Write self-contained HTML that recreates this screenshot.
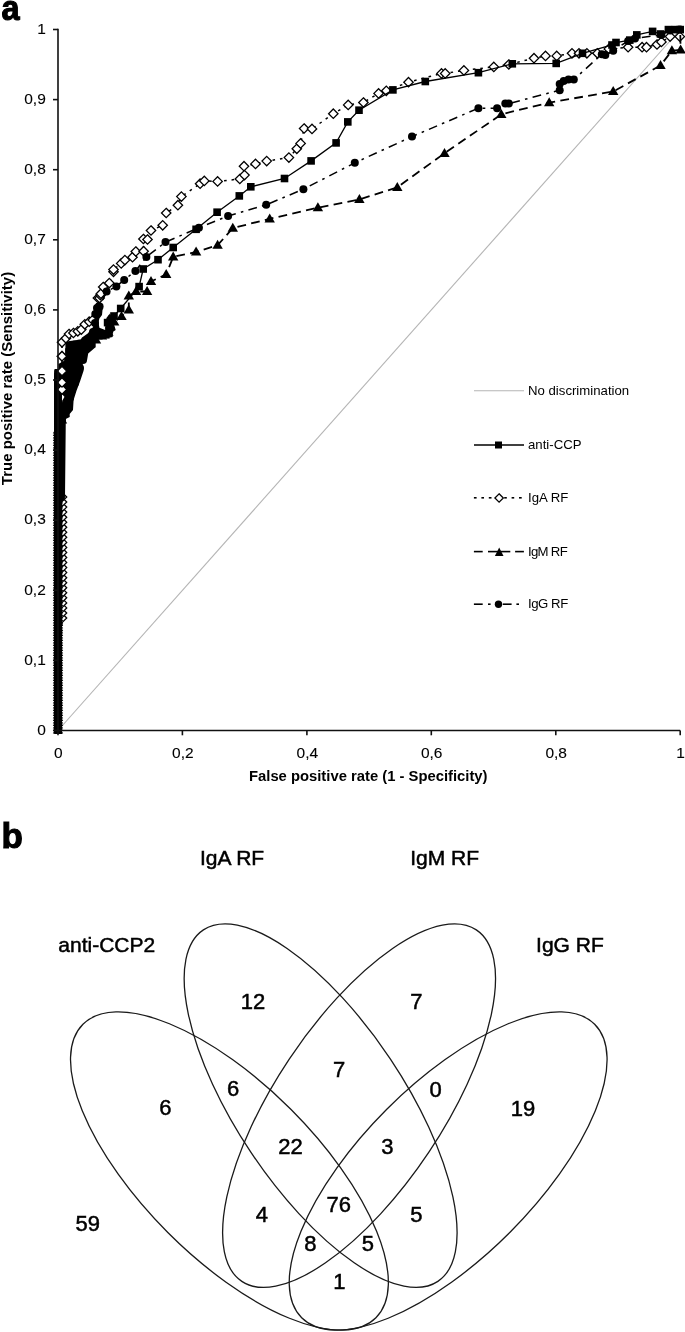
<!DOCTYPE html>
<html><head><meta charset="utf-8"><style>
html,body{margin:0;padding:0;background:#fff;}
body{width:685px;height:1332px;overflow:hidden;font-family:"Liberation Sans",sans-serif;}
svg{display:block;filter:grayscale(1) blur(0.3px);}
</style></head><body>
<svg width="685" height="1332" viewBox="0 0 685 1332">
<rect width="685" height="1332" fill="#fff"/>
<line x1="58.0" y1="730.5" x2="680.2" y2="29.5" stroke="#b4b4b4" stroke-width="1.1"/>
<polygon points="54.5,734.0 54.5,369.0 58.4,369.0 58.4,364.0 65.4,360.0 65.4,342.0 70.0,341.0 80.7,339.4 82.0,337.5 87.7,333.5 93.5,326.5 94.0,318.0 95.0,305.0 99.0,301.0 103.0,305.0 102.0,315.0 99.4,318.4 98.5,322.0 99.4,327.7 105.2,330.0 106.4,318.0 109.3,314.3 112.0,318.0 115.7,330.0 112.7,332.0 112.7,337.0 110.4,337.5 96.4,338.5 95.2,341.7 95.2,347.5 88.2,353.4 87.0,360.4 82.4,361.0 83.5,371.0 80.0,381.4 76.5,390.7 73.6,400.0 73.0,410.0 69.7,414.0 69.7,417.0 65.8,419.0 65.0,497.0 62.0,500.0 62.0,734.0" fill="#000"/>
<polyline points="58.0,730.5 62.0,618.0 62.0,613.0 62.0,607.9 62.0,602.9 62.0,597.8 62.0,592.8 62.0,587.8 62.0,582.7 62.0,577.7 62.0,572.6 62.0,567.6 62.0,562.5 62.0,557.5 62.0,552.5 62.0,547.4 62.0,542.4 62.0,537.3 62.0,532.3 62.0,527.2 62.0,522.2 62.0,517.2 62.0,512.1 62.0,507.1 62.0,502.0 62.0,497.0 62.0,398.0 62.0,389.5 62.0,382.5 62.0,371.1 62.0,356.2 62.0,342.3 65.9,338.3 69.0,334.0 73.4,333.0 77.8,331.3 81.3,329.6 84.8,324.3 89.2,321.7 92.7,320.0 97.9,298.0 99.6,298.1 100.4,295.2 100.9,293.7 103.2,287.0 109.3,283.1 113.5,271.8 113.5,269.6 121.2,263.4 124.9,260.1 132.5,257.2 135.8,251.5 143.6,251.2 143.4,239.0 147.5,239.5 151.0,230.5 162.7,225.3 166.2,213.0 177.9,205.2 181.4,196.6 200.1,183.7 204.3,180.9 217.6,181.4 239.8,179.0 244.5,175.1 244.0,166.2 255.5,163.9 266.7,161.1 288.9,157.6 296.8,148.8 300.6,143.4 304.1,128.5 312.0,128.9 333.3,113.7 348.2,104.9 363.4,102.5 378.6,93.4 386.3,90.8 408.5,82.2 441.5,73.4 445.2,73.4 463.9,70.4 493.8,66.9 508.8,64.5 534.0,58.2 545.5,55.9 556.7,55.9 572.0,53.3 579.0,53.3 586.9,53.3 597.4,53.3 608.8,48.9 628.1,47.2 642.1,47.2 646.5,47.2 657.0,44.5 661.4,41.9 670.1,36.6 679.8,36.6 680.2,29.5" fill="none" stroke="#000" stroke-width="1.5" stroke-dasharray="2.6 4.9"/>
<g fill="#fff" stroke="#000" stroke-width="1.3"><path d="M62.0 613.3L66.7 618.0L62.0 622.7L57.3 618.0Z"/><path d="M62.0 608.3L66.7 613.0L62.0 617.7L57.3 613.0Z"/><path d="M62.0 603.2L66.7 607.9L62.0 612.6L57.3 607.9Z"/><path d="M62.0 598.2L66.7 602.9L62.0 607.6L57.3 602.9Z"/><path d="M62.0 593.1L66.7 597.8L62.0 602.5L57.3 597.8Z"/><path d="M62.0 588.1L66.7 592.8L62.0 597.5L57.3 592.8Z"/><path d="M62.0 583.0L66.7 587.8L62.0 592.5L57.3 587.8Z"/><path d="M62.0 578.0L66.7 582.7L62.0 587.4L57.3 582.7Z"/><path d="M62.0 573.0L66.7 577.7L62.0 582.4L57.3 577.7Z"/><path d="M62.0 567.9L66.7 572.6L62.0 577.3L57.3 572.6Z"/><path d="M62.0 562.9L66.7 567.6L62.0 572.3L57.3 567.6Z"/><path d="M62.0 557.8L66.7 562.5L62.0 567.2L57.3 562.5Z"/><path d="M62.0 552.8L66.7 557.5L62.0 562.2L57.3 557.5Z"/><path d="M62.0 547.8L66.7 552.5L62.0 557.2L57.3 552.5Z"/><path d="M62.0 542.7L66.7 547.4L62.0 552.1L57.3 547.4Z"/><path d="M62.0 537.7L66.7 542.4L62.0 547.1L57.3 542.4Z"/><path d="M62.0 532.6L66.7 537.3L62.0 542.0L57.3 537.3Z"/><path d="M62.0 527.6L66.7 532.3L62.0 537.0L57.3 532.3Z"/><path d="M62.0 522.5L66.7 527.2L62.0 532.0L57.3 527.2Z"/><path d="M62.0 517.5L66.7 522.2L62.0 526.9L57.3 522.2Z"/><path d="M62.0 512.5L66.7 517.2L62.0 521.9L57.3 517.2Z"/><path d="M62.0 507.4L66.7 512.1L62.0 516.8L57.3 512.1Z"/><path d="M62.0 502.4L66.7 507.1L62.0 511.8L57.3 507.1Z"/><path d="M62.0 497.3L66.7 502.0L62.0 506.7L57.3 502.0Z"/><path d="M62.0 492.3L66.7 497.0L62.0 501.7L57.3 497.0Z"/><path d="M62.0 393.3L66.7 398.0L62.0 402.7L57.3 398.0Z"/><path d="M62.0 384.8L66.7 389.5L62.0 394.2L57.3 389.5Z"/><path d="M62.0 377.8L66.7 382.5L62.0 387.2L57.3 382.5Z"/><path d="M62.0 366.4L66.7 371.1L62.0 375.8L57.3 371.1Z"/><path d="M62.0 351.5L66.7 356.2L62.0 360.9L57.3 356.2Z"/><path d="M62.0 337.6L66.7 342.3L62.0 347.0L57.3 342.3Z"/><path d="M65.9 333.6L70.6 338.3L65.9 343.0L61.2 338.3Z"/><path d="M69.0 329.3L73.7 334.0L69.0 338.7L64.3 334.0Z"/><path d="M73.4 328.3L78.1 333.0L73.4 337.7L68.7 333.0Z"/><path d="M77.8 326.6L82.5 331.3L77.8 336.0L73.1 331.3Z"/><path d="M81.3 324.9L86.0 329.6L81.3 334.3L76.6 329.6Z"/><path d="M84.8 319.6L89.5 324.3L84.8 329.0L80.1 324.3Z"/><path d="M89.2 317.0L93.9 321.7L89.2 326.4L84.5 321.7Z"/><path d="M92.7 315.3L97.4 320.0L92.7 324.7L88.0 320.0Z"/><path d="M97.9 293.3L102.6 298.0L97.9 302.7L93.2 298.0Z"/><path d="M99.6 293.4L104.3 298.1L99.6 302.8L94.9 298.1Z"/><path d="M100.4 290.5L105.1 295.2L100.4 299.9L95.7 295.2Z"/><path d="M100.9 289.0L105.6 293.7L100.9 298.4L96.2 293.7Z"/><path d="M103.2 282.3L107.9 287.0L103.2 291.7L98.5 287.0Z"/><path d="M109.3 278.4L114.0 283.1L109.3 287.8L104.6 283.1Z"/><path d="M113.5 267.1L118.2 271.8L113.5 276.5L108.8 271.8Z"/><path d="M113.5 264.9L118.2 269.6L113.5 274.3L108.8 269.6Z"/><path d="M121.2 258.7L125.9 263.4L121.2 268.1L116.5 263.4Z"/><path d="M124.9 255.4L129.6 260.1L124.9 264.8L120.2 260.1Z"/><path d="M132.5 252.5L137.2 257.2L132.5 261.9L127.8 257.2Z"/><path d="M135.8 246.8L140.5 251.5L135.8 256.2L131.1 251.5Z"/><path d="M143.6 246.5L148.3 251.2L143.6 255.9L138.9 251.2Z"/><path d="M143.4 234.3L148.1 239.0L143.4 243.7L138.7 239.0Z"/><path d="M147.5 234.8L152.2 239.5L147.5 244.2L142.8 239.5Z"/><path d="M151.0 225.8L155.7 230.5L151.0 235.2L146.3 230.5Z"/><path d="M162.7 220.6L167.4 225.3L162.7 230.0L158.0 225.3Z"/><path d="M166.2 208.3L170.9 213.0L166.2 217.7L161.5 213.0Z"/><path d="M177.9 200.5L182.6 205.2L177.9 209.9L173.2 205.2Z"/><path d="M181.4 191.9L186.1 196.6L181.4 201.3L176.7 196.6Z"/><path d="M200.1 179.0L204.8 183.7L200.1 188.4L195.4 183.7Z"/><path d="M204.3 176.2L209.0 180.9L204.3 185.6L199.6 180.9Z"/><path d="M217.6 176.7L222.3 181.4L217.6 186.1L212.9 181.4Z"/><path d="M239.8 174.3L244.5 179.0L239.8 183.7L235.1 179.0Z"/><path d="M244.5 170.4L249.2 175.1L244.5 179.8L239.8 175.1Z"/><path d="M244.0 161.5L248.7 166.2L244.0 170.9L239.3 166.2Z"/><path d="M255.5 159.2L260.2 163.9L255.5 168.6L250.8 163.9Z"/><path d="M266.7 156.4L271.4 161.1L266.7 165.8L262.0 161.1Z"/><path d="M288.9 152.9L293.6 157.6L288.9 162.3L284.2 157.6Z"/><path d="M296.8 144.1L301.5 148.8L296.8 153.5L292.1 148.8Z"/><path d="M300.6 138.7L305.3 143.4L300.6 148.1L295.9 143.4Z"/><path d="M304.1 123.8L308.8 128.5L304.1 133.2L299.4 128.5Z"/><path d="M312.0 124.2L316.7 128.9L312.0 133.6L307.3 128.9Z"/><path d="M333.3 109.0L338.0 113.7L333.3 118.4L328.6 113.7Z"/><path d="M348.2 100.2L352.9 104.9L348.2 109.6L343.5 104.9Z"/><path d="M363.4 97.8L368.1 102.5L363.4 107.2L358.7 102.5Z"/><path d="M378.6 88.7L383.3 93.4L378.6 98.1L373.9 93.4Z"/><path d="M386.3 86.1L391.0 90.8L386.3 95.5L381.6 90.8Z"/><path d="M408.5 77.5L413.2 82.2L408.5 86.9L403.8 82.2Z"/><path d="M441.5 68.7L446.2 73.4L441.5 78.1L436.8 73.4Z"/><path d="M445.2 68.7L449.9 73.4L445.2 78.1L440.5 73.4Z"/><path d="M463.9 65.7L468.6 70.4L463.9 75.1L459.2 70.4Z"/><path d="M493.8 62.2L498.5 66.9L493.8 71.6L489.1 66.9Z"/><path d="M508.8 59.8L513.5 64.5L508.8 69.2L504.1 64.5Z"/><path d="M534.0 53.5L538.7 58.2L534.0 62.9L529.3 58.2Z"/><path d="M545.5 51.2L550.2 55.9L545.5 60.6L540.8 55.9Z"/><path d="M556.7 51.2L561.4 55.9L556.7 60.6L552.0 55.9Z"/><path d="M572.0 48.6L576.7 53.3L572.0 58.0L567.3 53.3Z"/><path d="M579.0 48.6L583.7 53.3L579.0 58.0L574.3 53.3Z"/><path d="M586.9 48.6L591.6 53.3L586.9 58.0L582.2 53.3Z"/><path d="M597.4 48.6L602.1 53.3L597.4 58.0L592.7 53.3Z"/><path d="M608.8 44.2L613.5 48.9L608.8 53.6L604.1 48.9Z"/><path d="M628.1 42.5L632.8 47.2L628.1 51.9L623.4 47.2Z"/><path d="M642.1 42.5L646.8 47.2L642.1 51.9L637.4 47.2Z"/><path d="M646.5 42.5L651.2 47.2L646.5 51.9L641.8 47.2Z"/><path d="M657.0 39.8L661.7 44.5L657.0 49.2L652.3 44.5Z"/><path d="M661.4 37.2L666.1 41.9L661.4 46.6L656.7 41.9Z"/><path d="M670.1 31.9L674.8 36.6L670.1 41.3L665.4 36.6Z"/><path d="M679.8 31.9L684.5 36.6L679.8 41.3L675.1 36.6Z"/></g>
<polyline points="58.0,730.0 58.0,727.5 58.0,725.0 58.0,722.5 58.0,720.0 58.0,717.5 58.0,715.0 58.0,712.5 58.0,709.9 58.0,707.4 58.0,704.9 58.0,702.4 58.0,699.9 58.0,697.4 58.0,694.9 58.0,692.4 58.0,689.9 58.0,687.4 58.0,684.9 58.0,682.4 58.0,679.9 58.0,677.4 58.0,674.8 58.0,672.3 58.0,669.8 58.0,667.3 58.0,664.8 58.0,662.3 58.0,659.8 58.0,657.3 58.0,654.8 58.0,652.3 58.0,649.8 58.0,647.3 58.0,644.8 58.0,642.3 58.0,639.7 58.0,637.2 58.0,634.7 58.0,632.2 58.0,629.7 58.0,627.2 58.0,624.7 58.0,622.2 58.0,619.7 58.0,617.2 58.0,614.7 58.0,612.2 58.0,609.7 58.0,607.2 58.0,604.6 58.0,602.1 58.0,599.6 58.0,597.1 58.0,594.6 58.0,592.1 58.0,589.6 58.0,587.1 58.0,584.6 58.0,582.1 58.0,579.6 58.0,577.1 58.0,574.6 58.0,572.1 58.0,569.5 58.0,567.0 58.0,564.5 58.0,562.0 58.0,559.5 58.0,557.0 58.0,554.5 58.0,552.0 58.0,549.5 58.0,547.0 58.0,544.5 58.0,542.0 58.0,539.5 58.0,537.0 58.0,534.5 58.0,531.9 58.0,529.4 58.0,526.9 58.0,524.4 58.0,521.9 58.0,519.4 58.0,516.9 58.0,514.4 58.0,511.9 58.0,509.4 58.0,506.9 58.0,504.4 58.0,501.9 58.0,499.4 58.0,496.8 58.0,494.3 58.0,491.8 58.0,489.3 58.0,486.8 58.0,484.3 58.0,481.8 58.0,479.3 58.0,476.8 58.0,474.3 58.0,471.8 58.0,469.3 58.0,466.8 58.0,464.3 58.0,461.7 58.0,459.2 58.0,456.7 58.0,454.2 58.0,451.7 58.0,449.2 58.0,446.7 58.0,444.2 58.0,441.7 58.0,439.2 58.0,436.7 58.0,434.2 58.0,431.7 58.0,429.2 58.0,426.6 58.0,424.1 58.0,421.6 58.0,419.1 58.0,416.6 58.0,414.1 58.0,411.6 58.0,409.1 58.0,406.6 58.0,404.1 58.0,401.6 58.0,399.1 58.0,396.6 58.0,394.1 58.0,391.5 58.0,389.0 58.0,386.5 58.0,384.0 58.0,381.5 58.0,379.0 58.0,376.5 58.0,374.0 64.0,368.0 68.0,360.0 69.0,352.0 70.0,347.0 72.5,345.3 77.0,344.5 81.3,343.6 86.0,343.6 91.8,343.6 98.8,335.7 105.8,334.8 109.3,329.6 107.6,322.6 114.0,316.0 120.7,308.5 139.1,286.6 143.2,269.0 158.0,259.7 173.2,247.5 196.1,229.3 217.1,212.2 239.3,195.9 250.8,186.8 284.5,178.5 311.1,160.9 336.1,142.9 347.8,121.9 359.0,110.2 392.9,89.9 425.3,81.5 478.4,72.7 512.3,63.8 556.2,63.4 582.5,53.3 612.0,45.0 616.0,42.5 629.8,40.1 636.8,34.9 652.6,31.4 660.5,34.0 668.4,29.6 675.4,29.6 680.2,29.6" fill="none" stroke="#000" stroke-width="1.3"/>
<g fill="#000"><rect x="54.2" y="726.2" width="7.6" height="7.6"/><rect x="54.2" y="723.7" width="7.6" height="7.6"/><rect x="54.2" y="721.2" width="7.6" height="7.6"/><rect x="54.2" y="718.7" width="7.6" height="7.6"/><rect x="54.2" y="716.2" width="7.6" height="7.6"/><rect x="54.2" y="713.7" width="7.6" height="7.6"/><rect x="54.2" y="711.2" width="7.6" height="7.6"/><rect x="54.2" y="708.7" width="7.6" height="7.6"/><rect x="54.2" y="706.1" width="7.6" height="7.6"/><rect x="54.2" y="703.6" width="7.6" height="7.6"/><rect x="54.2" y="701.1" width="7.6" height="7.6"/><rect x="54.2" y="698.6" width="7.6" height="7.6"/><rect x="54.2" y="696.1" width="7.6" height="7.6"/><rect x="54.2" y="693.6" width="7.6" height="7.6"/><rect x="54.2" y="691.1" width="7.6" height="7.6"/><rect x="54.2" y="688.6" width="7.6" height="7.6"/><rect x="54.2" y="686.1" width="7.6" height="7.6"/><rect x="54.2" y="683.6" width="7.6" height="7.6"/><rect x="54.2" y="681.1" width="7.6" height="7.6"/><rect x="54.2" y="678.6" width="7.6" height="7.6"/><rect x="54.2" y="676.1" width="7.6" height="7.6"/><rect x="54.2" y="673.6" width="7.6" height="7.6"/><rect x="54.2" y="671.0" width="7.6" height="7.6"/><rect x="54.2" y="668.5" width="7.6" height="7.6"/><rect x="54.2" y="666.0" width="7.6" height="7.6"/><rect x="54.2" y="663.5" width="7.6" height="7.6"/><rect x="54.2" y="661.0" width="7.6" height="7.6"/><rect x="54.2" y="658.5" width="7.6" height="7.6"/><rect x="54.2" y="656.0" width="7.6" height="7.6"/><rect x="54.2" y="653.5" width="7.6" height="7.6"/><rect x="54.2" y="651.0" width="7.6" height="7.6"/><rect x="54.2" y="648.5" width="7.6" height="7.6"/><rect x="54.2" y="646.0" width="7.6" height="7.6"/><rect x="54.2" y="643.5" width="7.6" height="7.6"/><rect x="54.2" y="641.0" width="7.6" height="7.6"/><rect x="54.2" y="638.5" width="7.6" height="7.6"/><rect x="54.2" y="635.9" width="7.6" height="7.6"/><rect x="54.2" y="633.4" width="7.6" height="7.6"/><rect x="54.2" y="630.9" width="7.6" height="7.6"/><rect x="54.2" y="628.4" width="7.6" height="7.6"/><rect x="54.2" y="625.9" width="7.6" height="7.6"/><rect x="54.2" y="623.4" width="7.6" height="7.6"/><rect x="54.2" y="620.9" width="7.6" height="7.6"/><rect x="54.2" y="618.4" width="7.6" height="7.6"/><rect x="54.2" y="615.9" width="7.6" height="7.6"/><rect x="54.2" y="613.4" width="7.6" height="7.6"/><rect x="54.2" y="610.9" width="7.6" height="7.6"/><rect x="54.2" y="608.4" width="7.6" height="7.6"/><rect x="54.2" y="605.9" width="7.6" height="7.6"/><rect x="54.2" y="603.4" width="7.6" height="7.6"/><rect x="54.2" y="600.8" width="7.6" height="7.6"/><rect x="54.2" y="598.3" width="7.6" height="7.6"/><rect x="54.2" y="595.8" width="7.6" height="7.6"/><rect x="54.2" y="593.3" width="7.6" height="7.6"/><rect x="54.2" y="590.8" width="7.6" height="7.6"/><rect x="54.2" y="588.3" width="7.6" height="7.6"/><rect x="54.2" y="585.8" width="7.6" height="7.6"/><rect x="54.2" y="583.3" width="7.6" height="7.6"/><rect x="54.2" y="580.8" width="7.6" height="7.6"/><rect x="54.2" y="578.3" width="7.6" height="7.6"/><rect x="54.2" y="575.8" width="7.6" height="7.6"/><rect x="54.2" y="573.3" width="7.6" height="7.6"/><rect x="54.2" y="570.8" width="7.6" height="7.6"/><rect x="54.2" y="568.3" width="7.6" height="7.6"/><rect x="54.2" y="565.7" width="7.6" height="7.6"/><rect x="54.2" y="563.2" width="7.6" height="7.6"/><rect x="54.2" y="560.7" width="7.6" height="7.6"/><rect x="54.2" y="558.2" width="7.6" height="7.6"/><rect x="54.2" y="555.7" width="7.6" height="7.6"/><rect x="54.2" y="553.2" width="7.6" height="7.6"/><rect x="54.2" y="550.7" width="7.6" height="7.6"/><rect x="54.2" y="548.2" width="7.6" height="7.6"/><rect x="54.2" y="545.7" width="7.6" height="7.6"/><rect x="54.2" y="543.2" width="7.6" height="7.6"/><rect x="54.2" y="540.7" width="7.6" height="7.6"/><rect x="54.2" y="538.2" width="7.6" height="7.6"/><rect x="54.2" y="535.7" width="7.6" height="7.6"/><rect x="54.2" y="533.2" width="7.6" height="7.6"/><rect x="54.2" y="530.7" width="7.6" height="7.6"/><rect x="54.2" y="528.1" width="7.6" height="7.6"/><rect x="54.2" y="525.6" width="7.6" height="7.6"/><rect x="54.2" y="523.1" width="7.6" height="7.6"/><rect x="54.2" y="520.6" width="7.6" height="7.6"/><rect x="54.2" y="518.1" width="7.6" height="7.6"/><rect x="54.2" y="515.6" width="7.6" height="7.6"/><rect x="54.2" y="513.1" width="7.6" height="7.6"/><rect x="54.2" y="510.6" width="7.6" height="7.6"/><rect x="54.2" y="508.1" width="7.6" height="7.6"/><rect x="54.2" y="505.6" width="7.6" height="7.6"/><rect x="54.2" y="503.1" width="7.6" height="7.6"/><rect x="54.2" y="500.6" width="7.6" height="7.6"/><rect x="54.2" y="498.1" width="7.6" height="7.6"/><rect x="54.2" y="495.6" width="7.6" height="7.6"/><rect x="54.2" y="493.0" width="7.6" height="7.6"/><rect x="54.2" y="490.5" width="7.6" height="7.6"/><rect x="54.2" y="488.0" width="7.6" height="7.6"/><rect x="54.2" y="485.5" width="7.6" height="7.6"/><rect x="54.2" y="483.0" width="7.6" height="7.6"/><rect x="54.2" y="480.5" width="7.6" height="7.6"/><rect x="54.2" y="478.0" width="7.6" height="7.6"/><rect x="54.2" y="475.5" width="7.6" height="7.6"/><rect x="54.2" y="473.0" width="7.6" height="7.6"/><rect x="54.2" y="470.5" width="7.6" height="7.6"/><rect x="54.2" y="468.0" width="7.6" height="7.6"/><rect x="54.2" y="465.5" width="7.6" height="7.6"/><rect x="54.2" y="463.0" width="7.6" height="7.6"/><rect x="54.2" y="460.5" width="7.6" height="7.6"/><rect x="54.2" y="457.9" width="7.6" height="7.6"/><rect x="54.2" y="455.4" width="7.6" height="7.6"/><rect x="54.2" y="452.9" width="7.6" height="7.6"/><rect x="54.2" y="450.4" width="7.6" height="7.6"/><rect x="54.2" y="447.9" width="7.6" height="7.6"/><rect x="54.2" y="445.4" width="7.6" height="7.6"/><rect x="54.2" y="442.9" width="7.6" height="7.6"/><rect x="54.2" y="440.4" width="7.6" height="7.6"/><rect x="54.2" y="437.9" width="7.6" height="7.6"/><rect x="54.2" y="435.4" width="7.6" height="7.6"/><rect x="54.2" y="432.9" width="7.6" height="7.6"/><rect x="54.2" y="430.4" width="7.6" height="7.6"/><rect x="54.2" y="427.9" width="7.6" height="7.6"/><rect x="54.2" y="425.4" width="7.6" height="7.6"/><rect x="54.2" y="422.8" width="7.6" height="7.6"/><rect x="54.2" y="420.3" width="7.6" height="7.6"/><rect x="54.2" y="417.8" width="7.6" height="7.6"/><rect x="54.2" y="415.3" width="7.6" height="7.6"/><rect x="54.2" y="412.8" width="7.6" height="7.6"/><rect x="54.2" y="410.3" width="7.6" height="7.6"/><rect x="54.2" y="407.8" width="7.6" height="7.6"/><rect x="54.2" y="405.3" width="7.6" height="7.6"/><rect x="54.2" y="402.8" width="7.6" height="7.6"/><rect x="54.2" y="400.3" width="7.6" height="7.6"/><rect x="54.2" y="397.8" width="7.6" height="7.6"/><rect x="54.2" y="395.3" width="7.6" height="7.6"/><rect x="54.2" y="392.8" width="7.6" height="7.6"/><rect x="54.2" y="390.3" width="7.6" height="7.6"/><rect x="54.2" y="387.7" width="7.6" height="7.6"/><rect x="54.2" y="385.2" width="7.6" height="7.6"/><rect x="54.2" y="382.7" width="7.6" height="7.6"/><rect x="54.2" y="380.2" width="7.6" height="7.6"/><rect x="54.2" y="377.7" width="7.6" height="7.6"/><rect x="54.2" y="375.2" width="7.6" height="7.6"/><rect x="54.2" y="372.7" width="7.6" height="7.6"/><rect x="54.2" y="370.2" width="7.6" height="7.6"/><rect x="60.2" y="364.2" width="7.6" height="7.6"/><rect x="64.2" y="356.2" width="7.6" height="7.6"/><rect x="65.2" y="348.2" width="7.6" height="7.6"/><rect x="66.2" y="343.2" width="7.6" height="7.6"/><rect x="68.7" y="341.5" width="7.6" height="7.6"/><rect x="73.2" y="340.7" width="7.6" height="7.6"/><rect x="77.5" y="339.8" width="7.6" height="7.6"/><rect x="82.2" y="339.8" width="7.6" height="7.6"/><rect x="88.0" y="339.8" width="7.6" height="7.6"/><rect x="95.0" y="331.9" width="7.6" height="7.6"/><rect x="102.0" y="331.0" width="7.6" height="7.6"/><rect x="105.5" y="325.8" width="7.6" height="7.6"/><rect x="103.8" y="318.8" width="7.6" height="7.6"/><rect x="110.2" y="312.2" width="7.6" height="7.6"/><rect x="116.9" y="304.7" width="7.6" height="7.6"/><rect x="135.3" y="282.8" width="7.6" height="7.6"/><rect x="139.4" y="265.2" width="7.6" height="7.6"/><rect x="154.2" y="255.9" width="7.6" height="7.6"/><rect x="169.4" y="243.7" width="7.6" height="7.6"/><rect x="192.3" y="225.5" width="7.6" height="7.6"/><rect x="213.3" y="208.4" width="7.6" height="7.6"/><rect x="235.5" y="192.1" width="7.6" height="7.6"/><rect x="247.0" y="183.0" width="7.6" height="7.6"/><rect x="280.7" y="174.7" width="7.6" height="7.6"/><rect x="307.3" y="157.1" width="7.6" height="7.6"/><rect x="332.3" y="139.1" width="7.6" height="7.6"/><rect x="344.0" y="118.1" width="7.6" height="7.6"/><rect x="355.2" y="106.4" width="7.6" height="7.6"/><rect x="389.1" y="86.1" width="7.6" height="7.6"/><rect x="421.5" y="77.7" width="7.6" height="7.6"/><rect x="474.6" y="68.9" width="7.6" height="7.6"/><rect x="508.5" y="60.0" width="7.6" height="7.6"/><rect x="552.4" y="59.6" width="7.6" height="7.6"/><rect x="578.7" y="49.5" width="7.6" height="7.6"/><rect x="608.2" y="41.2" width="7.6" height="7.6"/><rect x="612.2" y="38.7" width="7.6" height="7.6"/><rect x="626.0" y="36.3" width="7.6" height="7.6"/><rect x="633.0" y="31.1" width="7.6" height="7.6"/><rect x="648.8" y="27.6" width="7.6" height="7.6"/><rect x="656.7" y="30.2" width="7.6" height="7.6"/><rect x="664.6" y="25.8" width="7.6" height="7.6"/><rect x="671.6" y="25.8" width="7.6" height="7.6"/><rect x="676.4" y="25.8" width="7.6" height="7.6"/></g>
<g fill="#fff" stroke="#000" stroke-width="1.3"><path d="M62.0 384.8L66.7 389.5L62.0 394.2L57.3 389.5Z"/><path d="M62.0 377.8L66.7 382.5L62.0 387.2L57.3 382.5Z"/><path d="M62.0 366.4L66.7 371.1L62.0 375.8L57.3 371.1Z"/><path d="M62.0 351.5L66.7 356.2L62.0 360.9L57.3 356.2Z"/></g>
<polyline points="58.0,730.0 58.0,727.5 58.0,725.0 58.0,722.5 58.0,720.0 58.0,717.5 58.0,715.0 58.0,712.5 58.0,710.0 58.0,707.5 58.0,705.0 58.0,702.5 58.0,700.0 58.0,697.5 58.0,695.0 58.0,692.5 58.0,690.0 58.0,687.5 58.0,685.0 58.0,682.5 58.0,680.0 58.0,677.5 58.0,675.0 58.0,672.5 58.0,670.0 58.0,667.5 58.0,665.0 58.0,662.5 58.0,660.0 58.0,657.5 58.0,655.0 58.0,652.5 58.0,650.0 58.0,647.5 58.0,645.0 58.0,642.5 58.0,640.0 58.0,637.5 58.0,635.0 58.0,632.5 58.0,630.0 58.0,627.5 58.0,625.0 58.0,622.5 58.0,620.0 58.0,617.5 58.0,615.0 58.0,612.5 58.0,610.0 58.0,607.5 58.0,605.0 58.0,602.5 58.0,600.0 58.0,597.5 58.0,595.0 58.0,592.5 58.0,590.0 58.0,587.5 58.0,585.0 58.0,582.5 58.0,580.0 58.0,577.5 58.0,575.0 58.0,572.5 58.0,570.0 58.0,567.5 58.0,565.0 58.0,562.5 58.0,560.0 58.0,557.5 58.0,555.0 58.0,552.5 58.0,550.0 58.0,547.5 58.0,545.0 58.0,542.5 58.0,540.0 58.0,537.5 58.0,535.0 58.0,532.5 58.0,530.0 58.0,527.5 58.0,525.0 58.0,522.5 58.0,520.0 58.0,517.5 58.0,515.0 58.0,512.5 58.0,510.0 58.0,507.5 58.0,505.0 58.0,502.5 58.0,500.0 58.0,497.5 58.0,495.0 58.0,492.5 58.0,490.0 58.0,487.5 58.0,485.0 58.0,482.5 58.0,480.0 58.0,477.5 58.0,475.0 58.0,472.5 58.0,470.0 58.0,467.5 58.0,465.0 58.0,462.5 58.0,460.0 58.0,457.5 58.0,455.0 58.0,452.5 58.0,450.0 58.0,447.5 58.0,445.0 58.0,442.5 58.0,440.0 58.0,437.5 58.0,435.0 58.0,432.5 58.0,430.0 60.0,426.0 62.0,420.0 64.0,413.0 66.0,405.0 67.0,398.0 69.0,391.0 71.0,385.0 73.0,378.0 75.0,372.0 77.0,365.0 80.0,359.0 82.0,352.0 86.0,347.0 90.0,343.0 96.0,340.0 102.0,336.0 108.4,332.1 110.0,325.0 109.9,319.0 114.2,321.9 121.5,316.4 128.8,309.8 128.8,295.9 136.1,291.5 147.1,291.5 151.0,281.4 166.2,274.4 173.2,256.9 196.1,252.0 217.6,245.2 232.8,228.1 269.7,218.8 317.9,207.7 359.4,199.5 397.3,187.3 444.5,153.3 501.3,114.3 549.2,102.6 613.2,91.5 660.5,65.5 671.9,50.7 680.6,49.8 680.2,29.5" fill="none" stroke="#000" stroke-width="1.8" stroke-dasharray="8.8 5.3"/>
<g fill="#000"><path d="M58.0 724.6L63.2 733.6L52.8 733.6Z"/><path d="M58.0 722.1L63.2 731.1L52.8 731.1Z"/><path d="M58.0 719.6L63.2 728.6L52.8 728.6Z"/><path d="M58.0 717.1L63.2 726.1L52.8 726.1Z"/><path d="M58.0 714.6L63.2 723.6L52.8 723.6Z"/><path d="M58.0 712.1L63.2 721.1L52.8 721.1Z"/><path d="M58.0 709.6L63.2 718.6L52.8 718.6Z"/><path d="M58.0 707.1L63.2 716.1L52.8 716.1Z"/><path d="M58.0 704.6L63.2 713.6L52.8 713.6Z"/><path d="M58.0 702.1L63.2 711.1L52.8 711.1Z"/><path d="M58.0 699.6L63.2 708.6L52.8 708.6Z"/><path d="M58.0 697.1L63.2 706.1L52.8 706.1Z"/><path d="M58.0 694.6L63.2 703.6L52.8 703.6Z"/><path d="M58.0 692.1L63.2 701.1L52.8 701.1Z"/><path d="M58.0 689.6L63.2 698.6L52.8 698.6Z"/><path d="M58.0 687.1L63.2 696.1L52.8 696.1Z"/><path d="M58.0 684.6L63.2 693.6L52.8 693.6Z"/><path d="M58.0 682.1L63.2 691.1L52.8 691.1Z"/><path d="M58.0 679.6L63.2 688.6L52.8 688.6Z"/><path d="M58.0 677.1L63.2 686.1L52.8 686.1Z"/><path d="M58.0 674.6L63.2 683.6L52.8 683.6Z"/><path d="M58.0 672.1L63.2 681.1L52.8 681.1Z"/><path d="M58.0 669.6L63.2 678.6L52.8 678.6Z"/><path d="M58.0 667.1L63.2 676.1L52.8 676.1Z"/><path d="M58.0 664.6L63.2 673.6L52.8 673.6Z"/><path d="M58.0 662.1L63.2 671.1L52.8 671.1Z"/><path d="M58.0 659.6L63.2 668.6L52.8 668.6Z"/><path d="M58.0 657.1L63.2 666.1L52.8 666.1Z"/><path d="M58.0 654.6L63.2 663.6L52.8 663.6Z"/><path d="M58.0 652.1L63.2 661.1L52.8 661.1Z"/><path d="M58.0 649.6L63.2 658.6L52.8 658.6Z"/><path d="M58.0 647.1L63.2 656.1L52.8 656.1Z"/><path d="M58.0 644.6L63.2 653.6L52.8 653.6Z"/><path d="M58.0 642.1L63.2 651.1L52.8 651.1Z"/><path d="M58.0 639.6L63.2 648.6L52.8 648.6Z"/><path d="M58.0 637.1L63.2 646.1L52.8 646.1Z"/><path d="M58.0 634.6L63.2 643.6L52.8 643.6Z"/><path d="M58.0 632.1L63.2 641.1L52.8 641.1Z"/><path d="M58.0 629.6L63.2 638.6L52.8 638.6Z"/><path d="M58.0 627.1L63.2 636.1L52.8 636.1Z"/><path d="M58.0 624.6L63.2 633.6L52.8 633.6Z"/><path d="M58.0 622.1L63.2 631.1L52.8 631.1Z"/><path d="M58.0 619.6L63.2 628.6L52.8 628.6Z"/><path d="M58.0 617.1L63.2 626.1L52.8 626.1Z"/><path d="M58.0 614.6L63.2 623.6L52.8 623.6Z"/><path d="M58.0 612.1L63.2 621.1L52.8 621.1Z"/><path d="M58.0 609.6L63.2 618.6L52.8 618.6Z"/><path d="M58.0 607.1L63.2 616.1L52.8 616.1Z"/><path d="M58.0 604.6L63.2 613.6L52.8 613.6Z"/><path d="M58.0 602.1L63.2 611.1L52.8 611.1Z"/><path d="M58.0 599.6L63.2 608.6L52.8 608.6Z"/><path d="M58.0 597.1L63.2 606.1L52.8 606.1Z"/><path d="M58.0 594.6L63.2 603.6L52.8 603.6Z"/><path d="M58.0 592.1L63.2 601.1L52.8 601.1Z"/><path d="M58.0 589.6L63.2 598.6L52.8 598.6Z"/><path d="M58.0 587.1L63.2 596.1L52.8 596.1Z"/><path d="M58.0 584.6L63.2 593.6L52.8 593.6Z"/><path d="M58.0 582.1L63.2 591.1L52.8 591.1Z"/><path d="M58.0 579.6L63.2 588.6L52.8 588.6Z"/><path d="M58.0 577.1L63.2 586.1L52.8 586.1Z"/><path d="M58.0 574.6L63.2 583.6L52.8 583.6Z"/><path d="M58.0 572.1L63.2 581.1L52.8 581.1Z"/><path d="M58.0 569.6L63.2 578.6L52.8 578.6Z"/><path d="M58.0 567.1L63.2 576.1L52.8 576.1Z"/><path d="M58.0 564.6L63.2 573.6L52.8 573.6Z"/><path d="M58.0 562.1L63.2 571.1L52.8 571.1Z"/><path d="M58.0 559.6L63.2 568.6L52.8 568.6Z"/><path d="M58.0 557.1L63.2 566.1L52.8 566.1Z"/><path d="M58.0 554.6L63.2 563.6L52.8 563.6Z"/><path d="M58.0 552.1L63.2 561.1L52.8 561.1Z"/><path d="M58.0 549.6L63.2 558.6L52.8 558.6Z"/><path d="M58.0 547.1L63.2 556.1L52.8 556.1Z"/><path d="M58.0 544.6L63.2 553.6L52.8 553.6Z"/><path d="M58.0 542.1L63.2 551.1L52.8 551.1Z"/><path d="M58.0 539.6L63.2 548.6L52.8 548.6Z"/><path d="M58.0 537.1L63.2 546.1L52.8 546.1Z"/><path d="M58.0 534.6L63.2 543.6L52.8 543.6Z"/><path d="M58.0 532.1L63.2 541.1L52.8 541.1Z"/><path d="M58.0 529.6L63.2 538.6L52.8 538.6Z"/><path d="M58.0 527.1L63.2 536.1L52.8 536.1Z"/><path d="M58.0 524.6L63.2 533.6L52.8 533.6Z"/><path d="M58.0 522.1L63.2 531.1L52.8 531.1Z"/><path d="M58.0 519.6L63.2 528.6L52.8 528.6Z"/><path d="M58.0 517.1L63.2 526.1L52.8 526.1Z"/><path d="M58.0 514.6L63.2 523.6L52.8 523.6Z"/><path d="M58.0 512.1L63.2 521.1L52.8 521.1Z"/><path d="M58.0 509.6L63.2 518.6L52.8 518.6Z"/><path d="M58.0 507.1L63.2 516.1L52.8 516.1Z"/><path d="M58.0 504.6L63.2 513.6L52.8 513.6Z"/><path d="M58.0 502.1L63.2 511.1L52.8 511.1Z"/><path d="M58.0 499.6L63.2 508.6L52.8 508.6Z"/><path d="M58.0 497.1L63.2 506.1L52.8 506.1Z"/><path d="M58.0 494.6L63.2 503.6L52.8 503.6Z"/><path d="M58.0 492.1L63.2 501.1L52.8 501.1Z"/><path d="M58.0 489.6L63.2 498.6L52.8 498.6Z"/><path d="M58.0 487.1L63.2 496.1L52.8 496.1Z"/><path d="M58.0 484.6L63.2 493.6L52.8 493.6Z"/><path d="M58.0 482.1L63.2 491.1L52.8 491.1Z"/><path d="M58.0 479.6L63.2 488.6L52.8 488.6Z"/><path d="M58.0 477.1L63.2 486.1L52.8 486.1Z"/><path d="M58.0 474.6L63.2 483.6L52.8 483.6Z"/><path d="M58.0 472.1L63.2 481.1L52.8 481.1Z"/><path d="M58.0 469.6L63.2 478.6L52.8 478.6Z"/><path d="M58.0 467.1L63.2 476.1L52.8 476.1Z"/><path d="M58.0 464.6L63.2 473.6L52.8 473.6Z"/><path d="M58.0 462.1L63.2 471.1L52.8 471.1Z"/><path d="M58.0 459.6L63.2 468.6L52.8 468.6Z"/><path d="M58.0 457.1L63.2 466.1L52.8 466.1Z"/><path d="M58.0 454.6L63.2 463.6L52.8 463.6Z"/><path d="M58.0 452.1L63.2 461.1L52.8 461.1Z"/><path d="M58.0 449.6L63.2 458.6L52.8 458.6Z"/><path d="M58.0 447.1L63.2 456.1L52.8 456.1Z"/><path d="M58.0 444.6L63.2 453.6L52.8 453.6Z"/><path d="M58.0 442.1L63.2 451.1L52.8 451.1Z"/><path d="M58.0 439.6L63.2 448.6L52.8 448.6Z"/><path d="M58.0 437.1L63.2 446.1L52.8 446.1Z"/><path d="M58.0 434.6L63.2 443.6L52.8 443.6Z"/><path d="M58.0 432.1L63.2 441.1L52.8 441.1Z"/><path d="M58.0 429.6L63.2 438.6L52.8 438.6Z"/><path d="M58.0 427.1L63.2 436.1L52.8 436.1Z"/><path d="M58.0 424.6L63.2 433.6L52.8 433.6Z"/><path d="M60.0 420.6L65.2 429.6L54.8 429.6Z"/><path d="M62.0 414.6L67.2 423.6L56.8 423.6Z"/><path d="M64.0 407.6L69.2 416.6L58.8 416.6Z"/><path d="M66.0 399.6L71.2 408.6L60.8 408.6Z"/><path d="M67.0 392.6L72.2 401.6L61.8 401.6Z"/><path d="M69.0 385.6L74.2 394.6L63.8 394.6Z"/><path d="M71.0 379.6L76.2 388.6L65.8 388.6Z"/><path d="M73.0 372.6L78.2 381.6L67.8 381.6Z"/><path d="M75.0 366.6L80.2 375.6L69.8 375.6Z"/><path d="M77.0 359.6L82.2 368.6L71.8 368.6Z"/><path d="M80.0 353.6L85.2 362.6L74.8 362.6Z"/><path d="M82.0 346.6L87.2 355.6L76.8 355.6Z"/><path d="M86.0 341.6L91.2 350.6L80.8 350.6Z"/><path d="M90.0 337.6L95.2 346.6L84.8 346.6Z"/><path d="M96.0 334.6L101.2 343.6L90.8 343.6Z"/><path d="M102.0 330.6L107.2 339.6L96.8 339.6Z"/><path d="M108.4 326.7L113.6 335.7L103.2 335.7Z"/><path d="M110.0 319.6L115.2 328.6L104.8 328.6Z"/><path d="M109.9 313.6L115.1 322.6L104.7 322.6Z"/><path d="M114.2 316.5L119.4 325.5L109.0 325.5Z"/><path d="M121.5 311.0L126.7 320.0L116.3 320.0Z"/><path d="M128.8 304.4L134.0 313.4L123.6 313.4Z"/><path d="M128.8 290.5L134.0 299.5L123.6 299.5Z"/><path d="M136.1 286.1L141.3 295.1L130.9 295.1Z"/><path d="M147.1 286.1L152.3 295.1L141.9 295.1Z"/><path d="M151.0 276.0L156.2 285.0L145.8 285.0Z"/><path d="M166.2 269.0L171.4 278.0L161.0 278.0Z"/><path d="M173.2 251.5L178.4 260.5L168.0 260.5Z"/><path d="M196.1 246.6L201.3 255.6L190.9 255.6Z"/><path d="M217.6 239.8L222.8 248.8L212.4 248.8Z"/><path d="M232.8 222.7L238.0 231.7L227.6 231.7Z"/><path d="M269.7 213.4L274.9 222.4L264.5 222.4Z"/><path d="M317.9 202.3L323.1 211.3L312.7 211.3Z"/><path d="M359.4 194.1L364.6 203.1L354.2 203.1Z"/><path d="M397.3 181.9L402.5 190.9L392.1 190.9Z"/><path d="M444.5 147.9L449.7 156.9L439.3 156.9Z"/><path d="M501.3 108.9L506.5 117.9L496.1 117.9Z"/><path d="M549.2 97.2L554.4 106.2L544.0 106.2Z"/><path d="M613.2 86.1L618.4 95.1L608.0 95.1Z"/><path d="M660.5 60.1L665.7 69.1L655.3 69.1Z"/><path d="M671.9 45.3L677.1 54.3L666.7 54.3Z"/><path d="M680.6 44.4L685.8 53.4L675.4 53.4Z"/></g>
<polyline points="58.0,730.0 58.0,727.5 58.0,725.0 58.0,722.5 58.0,720.0 58.0,717.5 58.0,715.0 58.0,712.5 58.0,710.0 58.0,707.5 58.0,705.0 58.0,702.5 58.0,700.0 58.0,697.5 58.0,695.0 58.0,692.5 58.0,690.0 58.0,687.5 58.0,685.0 58.0,682.5 58.0,680.0 58.0,677.5 58.0,675.0 58.0,672.5 58.0,670.0 58.0,667.5 58.0,665.0 58.0,662.5 58.0,660.0 58.0,657.5 58.0,655.0 58.0,652.5 58.0,650.0 58.0,647.5 58.0,645.0 58.0,642.5 58.0,640.0 58.0,637.5 58.0,635.0 58.0,632.5 58.0,630.0 58.0,627.5 58.0,625.0 58.0,622.5 58.0,620.0 58.0,617.5 58.0,615.0 58.0,612.5 58.0,610.0 58.0,607.5 58.0,605.0 58.0,602.5 58.0,600.0 58.0,597.5 58.0,595.0 58.0,592.5 58.0,590.0 58.0,587.5 58.0,585.0 58.0,582.5 58.0,580.0 58.0,577.5 58.0,575.0 58.0,572.5 58.0,570.0 58.0,567.5 58.0,565.0 58.0,562.5 58.0,560.0 58.0,557.5 58.0,555.0 58.0,552.5 58.0,550.0 58.0,547.5 58.0,545.0 58.0,542.5 58.0,540.0 58.0,537.5 58.0,535.0 58.0,532.5 58.0,530.0 58.0,527.5 58.0,525.0 58.0,522.5 58.0,520.0 58.0,517.5 58.0,515.0 58.0,512.5 58.0,510.0 58.0,507.5 58.0,505.0 58.0,502.5 58.0,500.0 61.0,497.0 61.0,494.0 61.0,490.9 61.0,487.9 61.0,484.8 61.0,481.8 61.0,478.8 61.0,475.7 61.0,472.7 61.0,469.6 61.0,466.6 61.0,463.5 61.0,460.5 61.0,457.5 61.0,454.4 61.0,451.4 61.0,448.3 61.0,445.3 61.0,442.2 61.0,439.2 61.0,436.2 61.0,433.1 61.0,430.1 61.0,427.0 61.0,424.0 62.0,420.0 65.0,413.0 68.0,406.0 70.0,398.0 72.0,390.0 75.0,383.0 77.0,376.0 80.0,368.0 83.0,360.0 84.0,352.0 88.0,347.0 91.0,340.0 93.0,332.0 95.0,323.0 95.3,314.0 97.0,308.0 99.6,306.5 106.6,291.5 116.4,286.4 124.2,279.9 135.4,271.1 146.4,256.9 165.5,242.1 198.9,227.7 228.1,216.0 266.2,204.8 303.4,189.2 354.8,162.8 412.0,136.6 478.4,108.2 497.1,108.2 505.3,103.6 508.8,103.6 559.7,90.2 559.7,83.9 563.7,80.9 568.5,79.6 573.8,79.6 601.8,54.2 605.3,55.0 613.2,50.7 628.1,41.0 635.0,38.4 661.4,34.9 670.1,30.5 680.0,29.5" fill="none" stroke="#000" stroke-width="1.5" stroke-dasharray="8.8 5.3 2.6 5.3"/>
<g fill="#000"><circle cx="58.0" cy="730.0" r="4.0"/><circle cx="58.0" cy="727.5" r="4.0"/><circle cx="58.0" cy="725.0" r="4.0"/><circle cx="58.0" cy="722.5" r="4.0"/><circle cx="58.0" cy="720.0" r="4.0"/><circle cx="58.0" cy="717.5" r="4.0"/><circle cx="58.0" cy="715.0" r="4.0"/><circle cx="58.0" cy="712.5" r="4.0"/><circle cx="58.0" cy="710.0" r="4.0"/><circle cx="58.0" cy="707.5" r="4.0"/><circle cx="58.0" cy="705.0" r="4.0"/><circle cx="58.0" cy="702.5" r="4.0"/><circle cx="58.0" cy="700.0" r="4.0"/><circle cx="58.0" cy="697.5" r="4.0"/><circle cx="58.0" cy="695.0" r="4.0"/><circle cx="58.0" cy="692.5" r="4.0"/><circle cx="58.0" cy="690.0" r="4.0"/><circle cx="58.0" cy="687.5" r="4.0"/><circle cx="58.0" cy="685.0" r="4.0"/><circle cx="58.0" cy="682.5" r="4.0"/><circle cx="58.0" cy="680.0" r="4.0"/><circle cx="58.0" cy="677.5" r="4.0"/><circle cx="58.0" cy="675.0" r="4.0"/><circle cx="58.0" cy="672.5" r="4.0"/><circle cx="58.0" cy="670.0" r="4.0"/><circle cx="58.0" cy="667.5" r="4.0"/><circle cx="58.0" cy="665.0" r="4.0"/><circle cx="58.0" cy="662.5" r="4.0"/><circle cx="58.0" cy="660.0" r="4.0"/><circle cx="58.0" cy="657.5" r="4.0"/><circle cx="58.0" cy="655.0" r="4.0"/><circle cx="58.0" cy="652.5" r="4.0"/><circle cx="58.0" cy="650.0" r="4.0"/><circle cx="58.0" cy="647.5" r="4.0"/><circle cx="58.0" cy="645.0" r="4.0"/><circle cx="58.0" cy="642.5" r="4.0"/><circle cx="58.0" cy="640.0" r="4.0"/><circle cx="58.0" cy="637.5" r="4.0"/><circle cx="58.0" cy="635.0" r="4.0"/><circle cx="58.0" cy="632.5" r="4.0"/><circle cx="58.0" cy="630.0" r="4.0"/><circle cx="58.0" cy="627.5" r="4.0"/><circle cx="58.0" cy="625.0" r="4.0"/><circle cx="58.0" cy="622.5" r="4.0"/><circle cx="58.0" cy="620.0" r="4.0"/><circle cx="58.0" cy="617.5" r="4.0"/><circle cx="58.0" cy="615.0" r="4.0"/><circle cx="58.0" cy="612.5" r="4.0"/><circle cx="58.0" cy="610.0" r="4.0"/><circle cx="58.0" cy="607.5" r="4.0"/><circle cx="58.0" cy="605.0" r="4.0"/><circle cx="58.0" cy="602.5" r="4.0"/><circle cx="58.0" cy="600.0" r="4.0"/><circle cx="58.0" cy="597.5" r="4.0"/><circle cx="58.0" cy="595.0" r="4.0"/><circle cx="58.0" cy="592.5" r="4.0"/><circle cx="58.0" cy="590.0" r="4.0"/><circle cx="58.0" cy="587.5" r="4.0"/><circle cx="58.0" cy="585.0" r="4.0"/><circle cx="58.0" cy="582.5" r="4.0"/><circle cx="58.0" cy="580.0" r="4.0"/><circle cx="58.0" cy="577.5" r="4.0"/><circle cx="58.0" cy="575.0" r="4.0"/><circle cx="58.0" cy="572.5" r="4.0"/><circle cx="58.0" cy="570.0" r="4.0"/><circle cx="58.0" cy="567.5" r="4.0"/><circle cx="58.0" cy="565.0" r="4.0"/><circle cx="58.0" cy="562.5" r="4.0"/><circle cx="58.0" cy="560.0" r="4.0"/><circle cx="58.0" cy="557.5" r="4.0"/><circle cx="58.0" cy="555.0" r="4.0"/><circle cx="58.0" cy="552.5" r="4.0"/><circle cx="58.0" cy="550.0" r="4.0"/><circle cx="58.0" cy="547.5" r="4.0"/><circle cx="58.0" cy="545.0" r="4.0"/><circle cx="58.0" cy="542.5" r="4.0"/><circle cx="58.0" cy="540.0" r="4.0"/><circle cx="58.0" cy="537.5" r="4.0"/><circle cx="58.0" cy="535.0" r="4.0"/><circle cx="58.0" cy="532.5" r="4.0"/><circle cx="58.0" cy="530.0" r="4.0"/><circle cx="58.0" cy="527.5" r="4.0"/><circle cx="58.0" cy="525.0" r="4.0"/><circle cx="58.0" cy="522.5" r="4.0"/><circle cx="58.0" cy="520.0" r="4.0"/><circle cx="58.0" cy="517.5" r="4.0"/><circle cx="58.0" cy="515.0" r="4.0"/><circle cx="58.0" cy="512.5" r="4.0"/><circle cx="58.0" cy="510.0" r="4.0"/><circle cx="58.0" cy="507.5" r="4.0"/><circle cx="58.0" cy="505.0" r="4.0"/><circle cx="58.0" cy="502.5" r="4.0"/><circle cx="58.0" cy="500.0" r="4.0"/><circle cx="61.0" cy="497.0" r="4.0"/><circle cx="61.0" cy="494.0" r="4.0"/><circle cx="61.0" cy="490.9" r="4.0"/><circle cx="61.0" cy="487.9" r="4.0"/><circle cx="61.0" cy="484.8" r="4.0"/><circle cx="61.0" cy="481.8" r="4.0"/><circle cx="61.0" cy="478.8" r="4.0"/><circle cx="61.0" cy="475.7" r="4.0"/><circle cx="61.0" cy="472.7" r="4.0"/><circle cx="61.0" cy="469.6" r="4.0"/><circle cx="61.0" cy="466.6" r="4.0"/><circle cx="61.0" cy="463.5" r="4.0"/><circle cx="61.0" cy="460.5" r="4.0"/><circle cx="61.0" cy="457.5" r="4.0"/><circle cx="61.0" cy="454.4" r="4.0"/><circle cx="61.0" cy="451.4" r="4.0"/><circle cx="61.0" cy="448.3" r="4.0"/><circle cx="61.0" cy="445.3" r="4.0"/><circle cx="61.0" cy="442.2" r="4.0"/><circle cx="61.0" cy="439.2" r="4.0"/><circle cx="61.0" cy="436.2" r="4.0"/><circle cx="61.0" cy="433.1" r="4.0"/><circle cx="61.0" cy="430.1" r="4.0"/><circle cx="61.0" cy="427.0" r="4.0"/><circle cx="61.0" cy="424.0" r="4.0"/><circle cx="62.0" cy="420.0" r="4.0"/><circle cx="65.0" cy="413.0" r="4.0"/><circle cx="68.0" cy="406.0" r="4.0"/><circle cx="70.0" cy="398.0" r="4.0"/><circle cx="72.0" cy="390.0" r="4.0"/><circle cx="75.0" cy="383.0" r="4.0"/><circle cx="77.0" cy="376.0" r="4.0"/><circle cx="80.0" cy="368.0" r="4.0"/><circle cx="83.0" cy="360.0" r="4.0"/><circle cx="84.0" cy="352.0" r="4.0"/><circle cx="88.0" cy="347.0" r="4.0"/><circle cx="91.0" cy="340.0" r="4.0"/><circle cx="93.0" cy="332.0" r="4.0"/><circle cx="95.0" cy="323.0" r="4.0"/><circle cx="95.3" cy="314.0" r="4.0"/><circle cx="97.0" cy="308.0" r="4.0"/><circle cx="99.6" cy="306.5" r="4.0"/><circle cx="106.6" cy="291.5" r="4.0"/><circle cx="116.4" cy="286.4" r="4.0"/><circle cx="124.2" cy="279.9" r="4.0"/><circle cx="135.4" cy="271.1" r="4.0"/><circle cx="146.4" cy="256.9" r="4.0"/><circle cx="165.5" cy="242.1" r="4.0"/><circle cx="198.9" cy="227.7" r="4.0"/><circle cx="228.1" cy="216.0" r="4.0"/><circle cx="266.2" cy="204.8" r="4.0"/><circle cx="303.4" cy="189.2" r="4.0"/><circle cx="354.8" cy="162.8" r="4.0"/><circle cx="412.0" cy="136.6" r="4.0"/><circle cx="478.4" cy="108.2" r="4.0"/><circle cx="497.1" cy="108.2" r="4.0"/><circle cx="505.3" cy="103.6" r="4.0"/><circle cx="508.8" cy="103.6" r="4.0"/><circle cx="559.7" cy="90.2" r="4.0"/><circle cx="559.7" cy="83.9" r="4.0"/><circle cx="563.7" cy="80.9" r="4.0"/><circle cx="568.5" cy="79.6" r="4.0"/><circle cx="573.8" cy="79.6" r="4.0"/><circle cx="601.8" cy="54.2" r="4.0"/><circle cx="605.3" cy="55.0" r="4.0"/><circle cx="613.2" cy="50.7" r="4.0"/><circle cx="628.1" cy="41.0" r="4.0"/><circle cx="635.0" cy="38.4" r="4.0"/><circle cx="661.4" cy="34.9" r="4.0"/><circle cx="670.1" cy="30.5" r="4.0"/><circle cx="680.0" cy="29.5" r="4.0"/></g>
<g stroke="#111" stroke-width="1.6" fill="none">
<path d="M58.0 28.7V730.5H680.2"/>
<path d="M53 730.5H58.0"/>
<path d="M53 660.4H58.0"/>
<path d="M53 590.3H58.0"/>
<path d="M53 520.2H58.0"/>
<path d="M53 450.1H58.0"/>
<path d="M53 380.0H58.0"/>
<path d="M53 309.9H58.0"/>
<path d="M53 239.8H58.0"/>
<path d="M53 169.7H58.0"/>
<path d="M53 99.6H58.0"/>
<path d="M53 29.5H58.0"/>
<path d="M58.0 730.5V735.3"/>
<path d="M182.4 730.5V735.3"/>
<path d="M306.9 730.5V735.3"/>
<path d="M431.3 730.5V735.3"/>
<path d="M555.8 730.5V735.3"/>
<path d="M680.2 730.5V735.3"/>
</g>
<g font-family="Liberation Sans" font-size="15.5" fill="#000" stroke="#000" stroke-width="0.1">
<text x="45.8" y="734.7" text-anchor="end">0</text>
<text x="45.8" y="664.6" text-anchor="end">0,1</text>
<text x="45.8" y="594.5" text-anchor="end">0,2</text>
<text x="45.8" y="524.4" text-anchor="end">0,3</text>
<text x="45.8" y="454.3" text-anchor="end">0,4</text>
<text x="45.8" y="384.2" text-anchor="end">0,5</text>
<text x="45.8" y="314.1" text-anchor="end">0,6</text>
<text x="45.8" y="244.0" text-anchor="end">0,7</text>
<text x="45.8" y="173.9" text-anchor="end">0,8</text>
<text x="45.8" y="103.8" text-anchor="end">0,9</text>
<text x="45.8" y="33.7" text-anchor="end">1</text>
<text x="58.4" y="758.3" text-anchor="middle">0</text>
<text x="182.8" y="758.3" text-anchor="middle">0,2</text>
<text x="307.3" y="758.3" text-anchor="middle">0,4</text>
<text x="431.7" y="758.3" text-anchor="middle">0,6</text>
<text x="556.2" y="758.3" text-anchor="middle">0,8</text>
<text x="680.6" y="758.3" text-anchor="middle">1</text>
</g>
<text x="249" y="780.7" font-family="Liberation Sans" font-weight="bold" font-size="14.8">False positive rate (1 - Specificity)</text>
<text transform="translate(11.8 485.2) rotate(-90)" font-family="Liberation Sans" font-weight="bold" font-size="15">True positive rate (Sensitivity)</text>
<line x1="474" y1="390.8" x2="524" y2="390.8" stroke="#b4b4b4" stroke-width="1.1"/>
<line x1="474" y1="445" x2="524" y2="445" stroke="#000" stroke-width="1.3"/>
<rect fill="#000" x="495.0" y="441.5" width="7" height="7"/>
<line x1="473.9" y1="497.8" x2="476.6" y2="497.8" stroke="#000" stroke-width="1.6"/><line x1="481.4" y1="497.8" x2="484" y2="497.8" stroke="#000" stroke-width="1.6"/><line x1="488.8" y1="497.8" x2="491.5" y2="497.8" stroke="#000" stroke-width="1.6"/><line x1="504.2" y1="497.8" x2="506.8" y2="497.8" stroke="#000" stroke-width="1.6"/><line x1="511.6" y1="497.8" x2="514.2" y2="497.8" stroke="#000" stroke-width="1.6"/><line x1="519" y1="497.8" x2="521.7" y2="497.8" stroke="#000" stroke-width="1.6"/>
<g fill="#fff" stroke="#000" stroke-width="1.3"><path d="M499.1 493.8L503.3 498.0L499.1 502.2L494.9 498.0Z"/></g>
<line x1="473.9" y1="551.6" x2="482.7" y2="551.6" stroke="#000" stroke-width="1.6"/><line x1="488" y1="551.6" x2="510.3" y2="551.6" stroke="#000" stroke-width="1.6"/><line x1="515.1" y1="551.6" x2="523.9" y2="551.6" stroke="#000" stroke-width="1.6"/>
<path d="M499.2 547.5L503.5 555.9L494.9 555.9Z"/>
<line x1="473.9" y1="604.2" x2="482.7" y2="604.2" stroke="#000" stroke-width="1.6"/><line x1="488" y1="604.2" x2="490.6" y2="604.2" stroke="#000" stroke-width="1.6"/><line x1="495" y1="604.2" x2="502" y2="604.2" stroke="#000" stroke-width="1.6"/><line x1="502.8" y1="604.2" x2="511.6" y2="604.2" stroke="#000" stroke-width="1.6"/><line x1="516.4" y1="604.2" x2="519" y2="604.2" stroke="#000" stroke-width="1.6"/>
<circle cx="498.5" cy="604.2" r="3.7"/>
<g font-family="Liberation Sans" font-size="13.2" fill="#000">
<text x="528" y="394.9" letter-spacing="0">No discrimination</text>
<text x="528" y="449.1" letter-spacing="0">anti-CCP</text>
<text x="528" y="501.9" letter-spacing="0">IgA RF</text>
<text x="528" y="555.7" letter-spacing="-0.7">IgM RF</text>
<text x="528" y="608.3" letter-spacing="-0.45">IgG RF</text>
</g>
<text transform="translate(1.6 19.7) scale(0.93 1)" font-family="Liberation Sans" font-weight="bold" font-size="35" stroke="#000" stroke-width="1.1">a</text>
<text x="1.4" y="847.9" font-family="Liberation Sans" font-weight="bold" font-size="35" stroke="#000" stroke-width="1.1">b</text>
<g fill="none" stroke="#1a1a1a" stroke-width="1.3">
<ellipse cx="229.44" cy="1171.0" rx="207.32" ry="87.1" transform="rotate(45.04 229.44 1171.0)"/>
<ellipse cx="320.63" cy="1105.63" rx="211.25" ry="83.93" transform="rotate(56.29 320.63 1105.63)"/>
<ellipse cx="359.07" cy="1105.63" rx="211.25" ry="83.93" transform="rotate(-56.29 359.07 1105.63)"/>
<ellipse cx="448.16" cy="1171.0" rx="207.32" ry="87.1" transform="rotate(-45.04 448.16 1171.0)"/>
</g>
<g font-family="Liberation Sans" font-size="21" fill="#000" stroke="#000" stroke-width="0.5">
<text x="200" y="864.5">IgA RF</text>
<text x="410.2" y="865">IgM RF</text>
<text x="58.3" y="951.5">anti-CCP2</text>
<text x="536.1" y="951.8">IgG RF</text>
</g>
<g font-family="Liberation Sans" font-size="22" fill="#000" text-anchor="middle" stroke="#000" stroke-width="0.5">
<text x="253.0" y="1008.7">12</text>
<text x="416.3" y="1008.8">7</text>
<text x="165.3" y="1115.3">6</text>
<text x="233.1" y="1096.4">6</text>
<text x="339.2" y="1076.7">7</text>
<text x="435.5" y="1096.5">0</text>
<text x="523.1" y="1115.7">19</text>
<text x="290.4" y="1153.9">22</text>
<text x="387.4" y="1153.7">3</text>
<text x="87.7" y="1231.4">59</text>
<text x="261.9" y="1221.7">4</text>
<text x="338.7" y="1212.0">76</text>
<text x="416.3" y="1221.5">5</text>
<text x="310.3" y="1250.7">8</text>
<text x="367.9" y="1250.7">5</text>
<text x="339.3" y="1288.6">1</text>
</g>
</svg>
</body></html>
